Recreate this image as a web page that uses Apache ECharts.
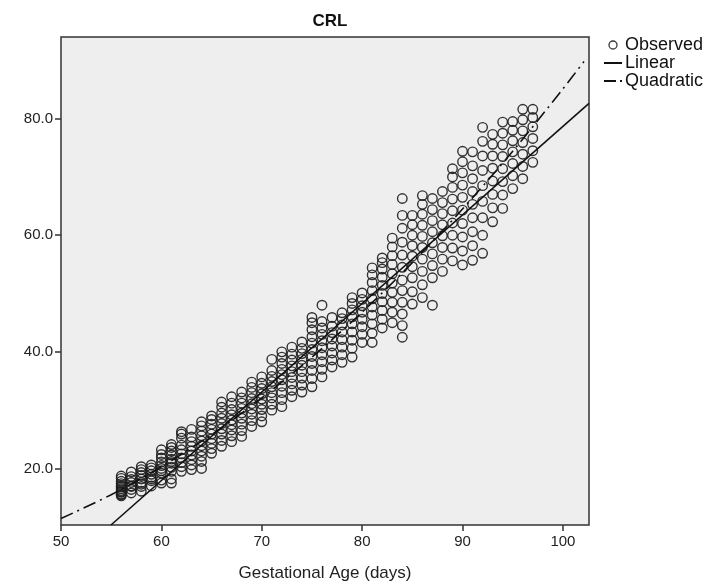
<!DOCTYPE html>
<html>
<head>
<meta charset="utf-8">
<script src="https://cdn.jsdelivr.net/npm/echarts@6/dist/echarts.min.js"></script>
<style>
html,body{margin:0;padding:0;background:#fff;}
#chart{width:727px;height:587px;}
</style>
</head>
<body>
<div id="chart"></div>
<script>
// Gestational age (days) for each column of observations
const days = [56,57,58,59,60,61,62,63,64,65,66,67,68,69,70,71,72,73,74,75,76,77,78,79,80,81,82,83,84,85,86,87,88,89,90,91,92,93,94,95,96,97];
// Observed CRL values for each day (same order as days)
const crlByDay = [
  [15.3,15.6,15.9,16.2,16.5,16.8,17.0,17.4,17.8,18.3,18.7,16.0,15.5],
  [15.8,16.4,17.0,17.6,18.1,18.6,19.4,16.9],
  [16.1,16.9,17.6,18.2,18.8,19.3,19.8,20.3,17.3],
  [17.0,17.9,18.5,19.0,19.6,20.1,20.6,18.2],
  [17.5,18.0,19.2,20.0,20.5,21.1,21.8,22.4,23.2,19.6],
  [17.5,18.2,19.5,20.2,20.9,21.6,22.3,23.0,23.6,24.1,21.2],
  [19.5,20.3,21.0,21.8,22.5,23.2,24.0,25.2,25.9,26.3],
  [19.8,20.6,21.5,22.3,23.0,23.8,24.6,25.4,26.7],
  [20.0,21.2,22.1,23.0,23.9,24.7,25.6,26.4,27.3,28.0],
  [22.6,23.4,24.3,25.1,25.9,26.7,27.6,28.4,29.0],
  [23.8,24.8,25.9,26.8,27.7,28.6,29.5,30.5,31.4],
  [24.6,25.6,26.6,27.5,28.3,29.2,30.1,31.2,32.3],
  [25.5,26.5,27.6,28.6,29.5,30.3,31.2,32.1,33.1],
  [27.2,28.2,29.3,30.2,31.1,32.0,33.0,33.9,34.8],
  [28.0,29.0,30.1,31.0,31.9,32.8,33.7,34.6,35.7],
  [30.0,31.0,32.1,33.0,34.0,34.9,35.8,36.8,38.7],
  [30.6,31.8,33.0,34.1,35.2,36.1,37.0,38.0,39.1,40.0],
  [32.3,33.4,34.5,35.6,36.6,37.6,38.6,39.6,40.8],
  [33.1,34.3,35.5,36.6,37.7,38.7,39.7,40.6,41.7],
  [34.0,35.4,36.8,38.0,39.2,40.4,41.5,42.6,43.8,45.0,45.9],
  [35.7,37.0,38.3,39.5,40.7,41.9,43.0,44.1,45.2,48.0],
  [37.4,38.6,39.8,41.0,42.2,43.3,44.4,45.9],
  [38.2,39.5,40.8,42.1,43.4,44.6,45.7,46.7],
  [39.1,40.6,42.0,43.4,44.8,46.0,47.2,48.3,49.3],
  [41.6,43.0,44.3,45.6,46.8,47.9,49.0,50.1],
  [41.6,43.2,44.8,46.3,47.7,49.1,50.5,51.9,53.2,54.4],
  [44.1,45.6,47.1,48.6,50.0,51.4,52.8,54.2,55.3,56.1],
  [45.0,46.8,48.5,50.2,51.8,53.4,55.0,56.5,58.0,59.5],
  [42.5,44.5,46.5,48.5,50.5,52.3,54.5,56.6,58.8,61.2,63.4,66.3],
  [48.2,50.3,52.7,54.6,56.4,58.2,60.0,61.8,63.4],
  [49.3,51.5,53.8,55.9,57.9,59.8,61.7,63.6,65.3,66.8],
  [48.0,52.7,54.8,56.8,58.7,60.6,62.5,64.4,66.3],
  [53.8,55.9,57.9,59.9,61.8,63.7,65.6,67.5],
  [55.6,57.8,60.0,62.1,64.2,66.2,68.2,70.0,71.4],
  [54.9,57.3,59.7,62.0,64.3,66.5,68.6,70.7,72.6,74.4],
  [55.7,58.2,60.6,63.0,65.3,67.5,69.7,71.9,74.3],
  [56.9,60.0,63.0,65.8,68.5,71.1,73.6,76.1,78.5],
  [62.3,64.7,67.0,69.3,71.5,73.6,75.6,77.3],
  [64.6,66.9,69.2,71.4,73.5,75.5,77.5,79.4],
  [68.0,70.2,72.3,74.3,76.2,78.0,79.5],
  [69.7,71.8,73.9,75.9,77.9,79.8,81.6],
  [72.5,74.5,76.6,78.6,80.2,81.6]
];
// Linear fit line, read at its two ends
const linearX = [54.98, 102.6];
const linearY = [10.3, 82.6];
// Quadratic fit curve, read at several ages
const quadX = [50, 55, 60, 65, 70, 75, 80, 85, 90, 95, 100, 102.1];
const quadY = [11.4, 15.5, 20.3, 25.8, 32.1, 39.1, 46.8, 55.3, 64.5, 74.4, 85.1, 89.8];
// Axis ticks
const xTicks = [50, 60, 70, 80, 90, 100];
const yTicks = [20, 40, 60, 80];

const observed = [];
days.forEach((d, i) => crlByDay[i].forEach(v => observed.push([d, v])));
const linearData = linearX.map((x, i) => [x, linearY[i]]);
const quadData = quadX.map((x, i) => [x, quadY[i]]);

const FONT = 'Liberation Sans, Arial, sans-serif';
const chart = echarts.init(document.getElementById('chart'), null, {renderer: 'canvas'});
chart.setOption({
  animation: false,
  backgroundColor: '#ffffff',
  title: {
    text: 'CRL', left: 325, top: 8, textAlign: 'center',
    textStyle: {fontFamily: FONT, fontSize: 17, fontWeight: 'bold', color: '#111'}
  },
  legend: {
    orient: 'vertical', left: 598, top: 31, itemGap: 0,
    itemWidth: 18, itemHeight: 8,
    textStyle: {fontFamily: FONT, fontSize: 18, color: '#111', lineHeight: 16, padding: [0,0,0,-2]},
    data: [
      {name: 'Observed', icon: 'circle', itemStyle: {color: 'transparent', borderColor: '#222', borderWidth: 1.3}},
      {name: 'Linear', itemStyle: {opacity: 0}, lineStyle: {color: '#111', width: 2}},
      {name: 'Quadratic', itemStyle: {opacity: 0}, lineStyle: {color: '#111', width: 2, type: [12, 4, 2, 4]}}
    ]
  },
  grid: {
    left: 61, right: 138, top: 37, bottom: 58,
    show: true, backgroundColor: '#eeeeee', borderColor: '#333', borderWidth: 1.5
  },
  xAxis: {
    type: 'value', min: 50, max: 102.6, interval: 10,
    name: 'Gestational Age (days)', nameLocation: 'middle', nameGap: 40,
    nameTextStyle: {fontFamily: FONT, fontSize: 17, color: '#222'},
    axisLine: {show: false},
    axisTick: {show: true, length: 6, lineStyle: {color: '#333', width: 1.5}, customValues: xTicks},
    axisLabel: {fontFamily: FONT, fontSize: 15, color: '#222', margin: 9, customValues: xTicks},
    splitLine: {show: false}
  },
  yAxis: {
    type: 'value', min: 10.3, max: 94.0, interval: 20,
    axisLine: {show: false},
    axisTick: {show: true, length: 6, lineStyle: {color: '#333', width: 1.5}, customValues: yTicks},
    axisLabel: {fontFamily: FONT, fontSize: 15, color: '#222', margin: 8, customValues: yTicks,
      formatter: v => v.toFixed(1)},
    splitLine: {show: false}
  },
  series: [
    {
      name: 'Observed', type: 'scatter', data: observed, symbol: 'circle', symbolSize: 9.5,
      itemStyle: {color: 'transparent', borderColor: '#1e1e1e', borderWidth: 1.4, opacity: 0.9},
      z: 2
    },
    {
      name: 'Linear', type: 'line', data: linearData, symbol: 'none', color: '#111',
      lineStyle: {color: '#111', width: 1.6}, z: 3
    },
    {
      name: 'Quadratic', type: 'line', data: quadData, symbol: 'none', smooth: 0.3, color: '#111',
      lineStyle: {color: '#111', width: 1.6, type: [13, 5, 2, 5]}, z: 3
    }
  ]
});
</script>
</body>
</html>
